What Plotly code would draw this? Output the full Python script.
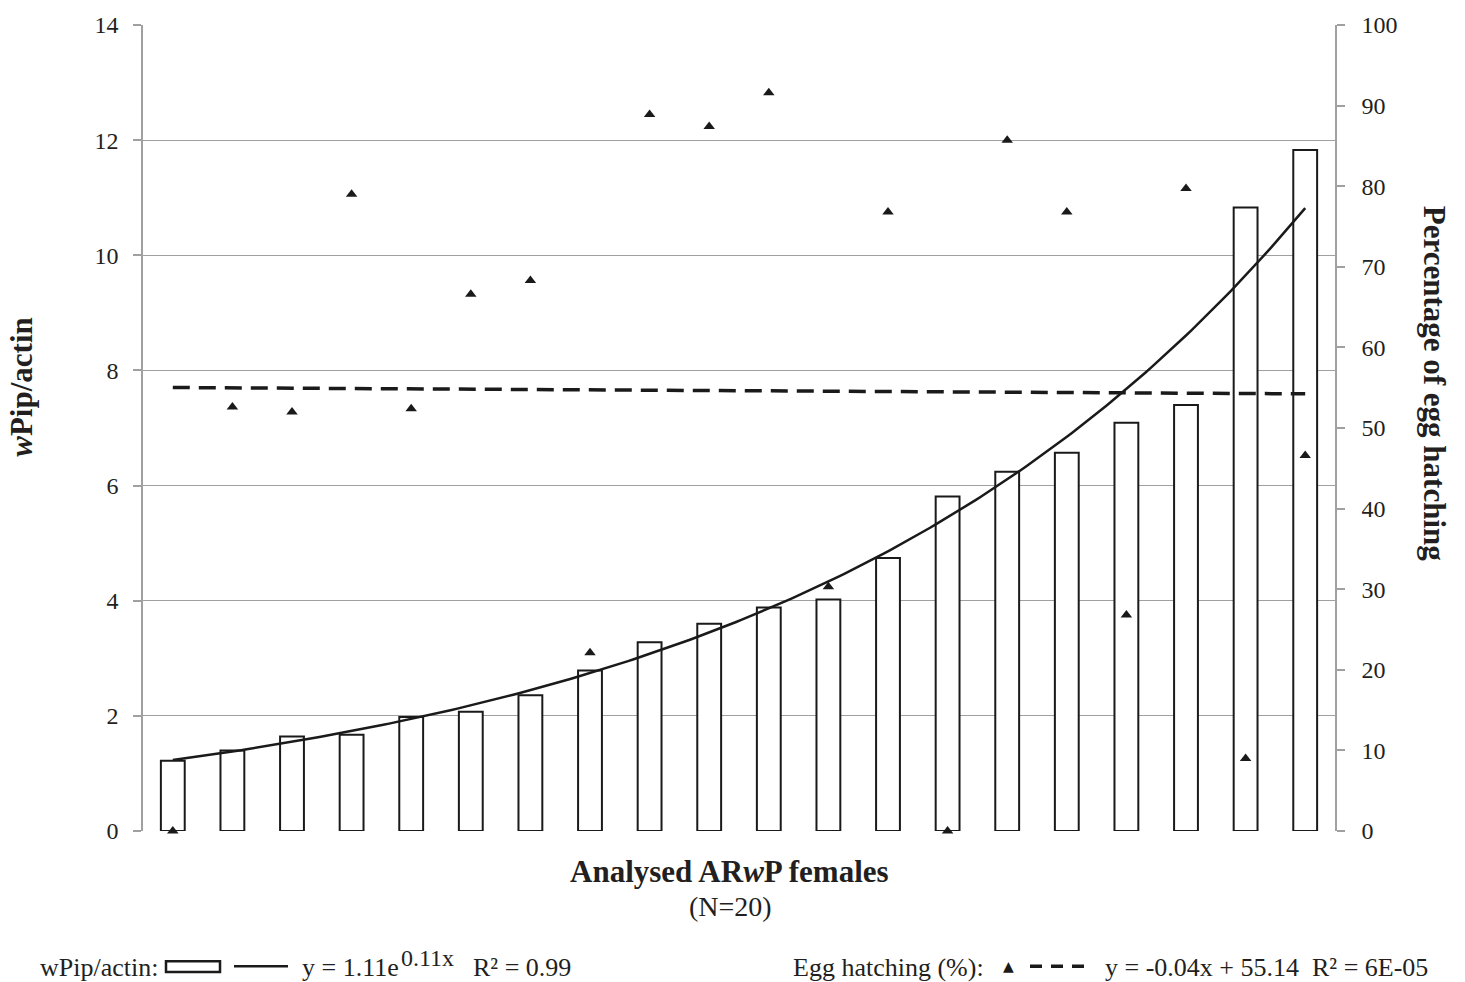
import numpy as np
import plotly.graph_objects as go

# ---- data ----
females = list(range(1, 21))
wpip_actin = [1.22, 1.40, 1.64, 1.67, 1.98, 2.07, 2.36, 2.79, 3.28, 3.60,
              3.88, 4.02, 4.74, 5.81, 6.24, 6.57, 7.09, 7.40, 10.83, 11.83]
egg_hatching = [0.0, 52.6, 52.0, 79.0, 52.4, 66.6, 68.3, 22.1, 88.9, 87.4,
                91.6, 30.3, 76.8, 0.0, 85.7, 76.8, 26.8, 79.7, 9.0, 46.6]
left_ticks = [0, 2, 4, 6, 8, 10, 12, 14]
right_ticks = [0, 10, 20, 30, 40, 50, 60, 70, 80, 90, 100]

# ---- trendlines (fitted from the data, as in the original) ----
x = np.array(females, dtype=float)
b_exp, ln_a = np.polyfit(x, np.log(wpip_actin), 1)
xs = np.linspace(1, 20, 200)
exp_fit = np.exp(ln_a) * np.exp(b_exp * xs)
m_lin, c_lin = np.polyfit(x, egg_hatching, 1)
lin_fit = m_lin * x + c_lin

FONT = "Liberation Serif"
TXT = "#231f20"
GRID = "#a0a0a0"
INK = "#1a1a1a"

W, H = 1465, 982
L, R, T, B = 143, 1335, 20, 831


def px(xp):
    return (xp - L) / (R - L)


def py(yp):
    return (B - yp) / (B - T)


fig = go.Figure()
fig.add_trace(go.Scatter(
    x=females, y=lin_fit, mode="lines",
    line=dict(color=INK, width=3.5, dash="17px,9px"),
    yaxis="y2", showlegend=False, hoverinfo="skip"))
fig.add_trace(go.Bar(
    x=females, y=wpip_actin, width=0.4,
    marker=dict(color="white", line=dict(color=INK, width=2)),
    yaxis="y", showlegend=False, hoverinfo="x+y"))
fig.add_trace(go.Scatter(
    x=xs, y=exp_fit, mode="lines", line=dict(color=INK, width=2.5),
    yaxis="y", showlegend=False, hoverinfo="skip"))
fig.add_trace(go.Scatter(
    x=females, y=egg_hatching, mode="markers", cliponaxis=False,
    marker=dict(symbol="triangle-up", size=10, color=INK),
    yaxis="y2", showlegend=False))

LEG_Y = 968
annotations = [
    dict(text="<b><i>w</i>Pip/actin</b>", x=px(22), y=py(384), textangle=-90,
         font=dict(size=31, color=TXT, family=FONT)),
    dict(text="<b>Percentage of egg hatching</b>", x=px(1434), y=py(380), textangle=90,
         font=dict(size=31, color=TXT, family=FONT)),
    dict(text="<b>Analysed AR<i>w</i>P females</b>", x=px(729), y=py(872),
         font=dict(size=31, color=TXT, family=FONT)),
    dict(text="(N=20)", x=px(730), y=py(907),
         font=dict(size=28, color=TXT, family=FONT)),
    dict(text="wPip/actin:", x=px(160), y=py(LEG_Y), xanchor="right",
         font=dict(size=26, color=TXT, family=FONT)),
    dict(text="y = 1.11e", x=px(300), y=py(LEG_Y), xanchor="left",
         font=dict(size=26, color=TXT, family=FONT)),
    dict(text="0.11x", x=px(399), y=py(LEG_Y - 9), xanchor="left",
         font=dict(size=24, color=TXT, family=FONT)),
    dict(text="R² = 0.99", x=px(471), y=py(LEG_Y), xanchor="left",
         font=dict(size=26, color=TXT, family=FONT)),
    dict(text="Egg hatching (%):", x=px(986), y=py(LEG_Y), xanchor="right",
         font=dict(size=26, color=TXT, family=FONT)),
    dict(text="▲", x=px(1008), y=py(LEG_Y - 1),
         font=dict(size=14, color=INK, family="DejaVu Sans")),
    dict(text="y = -0.04x + 55.14", x=px(1103), y=py(LEG_Y), xanchor="left",
         font=dict(size=26, color=TXT, family=FONT)),
    dict(text="R² = 6E-05", x=px(1310), y=py(LEG_Y), xanchor="left",
         font=dict(size=26, color=TXT, family=FONT)),
]
for a in annotations:
    a.update(xref="paper", yref="paper", showarrow=False)
    a.setdefault("xanchor", "center")
    a.setdefault("yanchor", "middle")

shapes = [
    dict(type="rect", xref="paper", yref="paper", x0=px(166), x1=px(220),
         y0=py(973), y1=py(962), line=dict(color=INK, width=2.5), fillcolor="white"),
    dict(type="line", xref="paper", yref="paper", x0=px(234), x1=px(288),
         y0=py(967), y1=py(967), line=dict(color=INK, width=2.5)),
    dict(type="line", xref="paper", yref="paper", x0=px(1030), x1=px(1092),
         y0=py(967), y1=py(967), line=dict(color=INK, width=3.5, dash="12px,9px")),
]

fig.update_layout(
    width=W, height=H,
    margin=dict(l=L, r=W - R, t=T, b=H - B, pad=0),
    paper_bgcolor="white", plot_bgcolor="white",
    font=dict(family=FONT, color=TXT, size=24),
    bargap=0.6,
    xaxis=dict(range=[0.5, 20.5], showticklabels=False, showgrid=False,
               zeroline=False, ticks="", showline=False),
    yaxis=dict(range=[0, 14], tickvals=left_ticks, showgrid=True, gridcolor=GRID,
               gridwidth=1.3, zeroline=False, showline=True, linecolor=GRID, linewidth=1.5,
               ticks="outside", ticklen=8, tickcolor=GRID, tickwidth=1.5,
               ticklabelstandoff=10,
               tickfont=dict(size=24, color=TXT, family=FONT)),
    yaxis2=dict(range=[0, 100], tickvals=right_ticks, overlaying="y", side="right",
                showgrid=False, zeroline=False, showline=True, linecolor=GRID, linewidth=1.5,
                ticks="outside", ticklen=8, tickcolor=GRID, tickwidth=1.5,
                ticklabelstandoff=12,
                tickfont=dict(size=24, color=TXT, family=FONT)),
    annotations=annotations,
    shapes=shapes,
)

fig.write_html(
    "out.html",
    config={"displayModeBar": False},
    post_script="document.body.style.margin='0';document.body.style.overflow='hidden';",
)
